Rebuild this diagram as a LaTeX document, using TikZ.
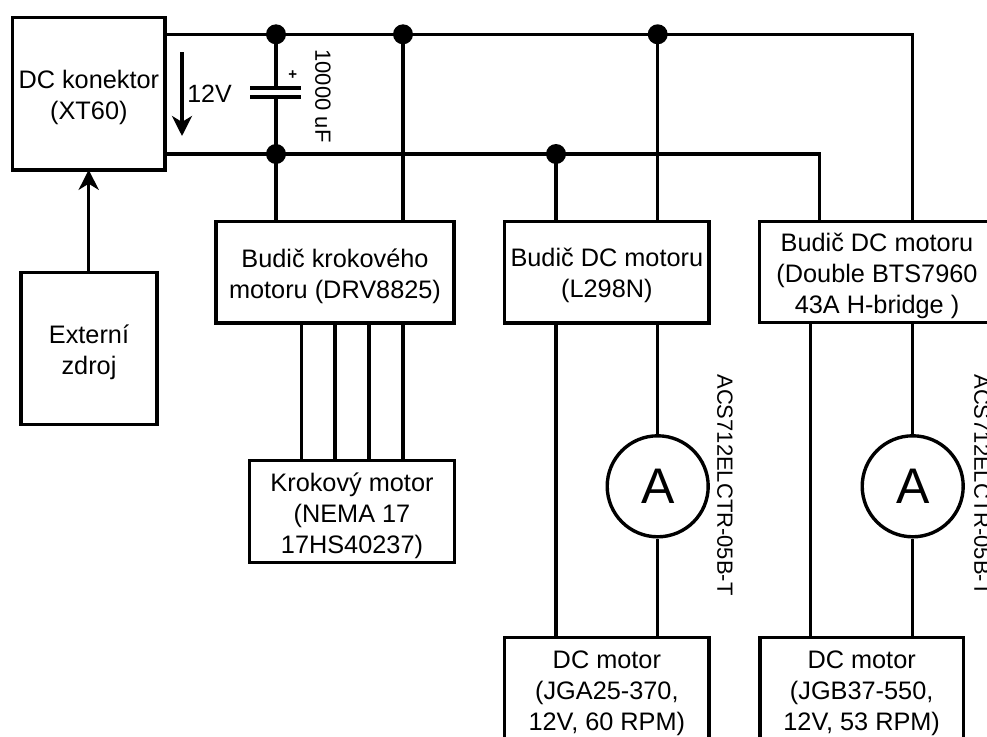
\documentclass[tikz,border=0pt]{standalone}
\usepackage{fontspec}
\setmainfont{Liberation Sans}
\usetikzlibrary{arrows.meta,calc}
\tikzset{
  wire/.style={line width=3.4pt,line cap=butt},
  blk/.style={draw,line width=3.5pt,fill=white,inner sep=0pt},
  txt/.style={align=center,inner sep=0pt,font=\fontsize{25.3}{31}\selectfont},
  dot/.style={circle,fill=black,draw=none,minimum size=20pt,inner sep=0pt},
  amp/.style={circle,draw,line width=3.4pt,fill=white,minimum size=101pt,inner sep=0pt,font=\fontsize{50}{50}\selectfont},
  lab/.style={inner sep=0pt,font=\fontsize{25}{28}\selectfont},
  vlab/.style={inner sep=0pt,rotate=-90,font=\fontsize{22}{24}\selectfont},
}
\newcommand{\bx}[7]{\node[blk,minimum width=#4pt-#2pt,minimum height=#5pt-#3pt] (#1) at ({(#2+#4)/2},{(#3+#5)/2}) {};
  \node[txt] (#1t) at ($(#1.center)+(0,#6)$) {#7};}
\begin{document}
\begin{tikzpicture}[x=1pt,y=-1pt]
\useasboundingbox (0,0) rectangle (987,736);
\bx{xt}{12.7}{17.5}{165}{170}{4}{DC konektor\\(XT60)}
\bx{ext}{21}{272.7}{157}{424.7}{3.5}{Externí\\zdroj}
\bx{drv}{216}{221.7}{454}{323}{4}{Budič krokového\\motoru (DRV8825)}
\bx{nema}{249.7}{460.7}{454.3}{562.7}{4.5}{Krokový motor\\(NEMA 17\\17HS40237)}
\bx{lm}{504.7}{221.5}{709}{323}{3.5}{Budič DC motoru\\(L298N)}
\bx{bts}{759.3}{221.7}{994.7}{322.7}{3.5}{Budič DC motoru\\(Double BTS7960\\43A H-bridge )}
\bx{ma}{504.7}{637.3}{709}{739}{5}{DC motor\\(JGA25-370,\\12V, 60 RPM)}
\bx{mb}{760}{637.3}{963.3}{739}{5}{DC motor\\(JGB37-550,\\12V, 53 RPM)}
\node[amp] (a1) at (657.7,486.3) {A};
\node[amp] (a2) at (912.7,486.3) {A};
\node[dot] (j1) at (276,34.3) {};
\node[dot] (j2) at (403,34.3) {};
\node[dot] (j3) at (657.7,34.3) {};
\node[dot] (j4) at (276,154) {};
\node[dot] (j5) at (556,154) {};
\coordinate (tl) at (xt.east |- j1);
\coordinate (bl) at (xt.east |- j4);
\coordinate (tr) at (912.7,34.3);
\coordinate (br) at (819.3,154);
\coordinate (pa) at (276,88);
\coordinate (pb) at (276,97);
\coordinate (c2) at (810.7,0);
\coordinate (c3) at (88.7,0);
\draw[wire] (tl) -- (tr) -- (bts.north -| tr);
\draw[wire] (bl) -- (br) -- (bts.north -| br);
\draw[wire] (j5.center) -- (lm.north -| j5);
\draw[wire] (j2.center) -- (drv.north -| j2);
\draw[wire] (j3.center) -- (lm.north -| j3);
\draw[wire] (j4.center) -- (drv.north -| j4);
\draw[wire] (j1.center) -- (pa);
\draw[wire] (j4.center) -- (pb);
\draw[wire] ($(pa)+(-26,0)$) -- ($(pa)+(25,0)$);
\draw[wire] ($(pb)+(-26,0)$) -- ($(pb)+(25,0)$);
\node[font=\bfseries\fontsize{15}{15}\selectfont,inner sep=0pt] (plus) at (292.7,75.5) {+};
\foreach \x in {301.5,335,369,403} {
  \coordinate (w) at (\x,0);
  \draw[wire] (drv.south -| w) -- (nema.north -| w);
}
\draw[wire] (lm.south -| j5) -- (ma.north -| j5);
\draw[wire] (lm.south -| a1) -- (a1.north);
\draw[wire] (a1.south) -- (ma.north -| a1);
\draw[wire] (bts.south -| a2) -- (a2.north);
\draw[wire] (a2.south) -- (mb.north -| a2);
\draw[wire] (bts.south -| c2) -- (mb.north -| c2);
\draw[wire,shorten >=-2pt,-{Stealth[length=20pt,width=20pt,inset=6pt]}] (ext.north -| c3) -- (xt.south -| c3);
\coordinate (ua) at (182,52);
\coordinate (ub) at (182,136);
\draw[wire,-{Stealth[length=20pt,width=20pt,inset=6pt]}] (ua) -- (ub);
\node[lab] (v) at (209.5,94) {12V};
\node[vlab] (cap) at (323,96) {10000 uF};
\node[vlab] (s1) at (725,485) {ACS712ELCTR-05B-T};
\node[vlab] (s2) at (982,485) {ACS712ELCTR-05B-T};
\end{tikzpicture}
\end{document}
